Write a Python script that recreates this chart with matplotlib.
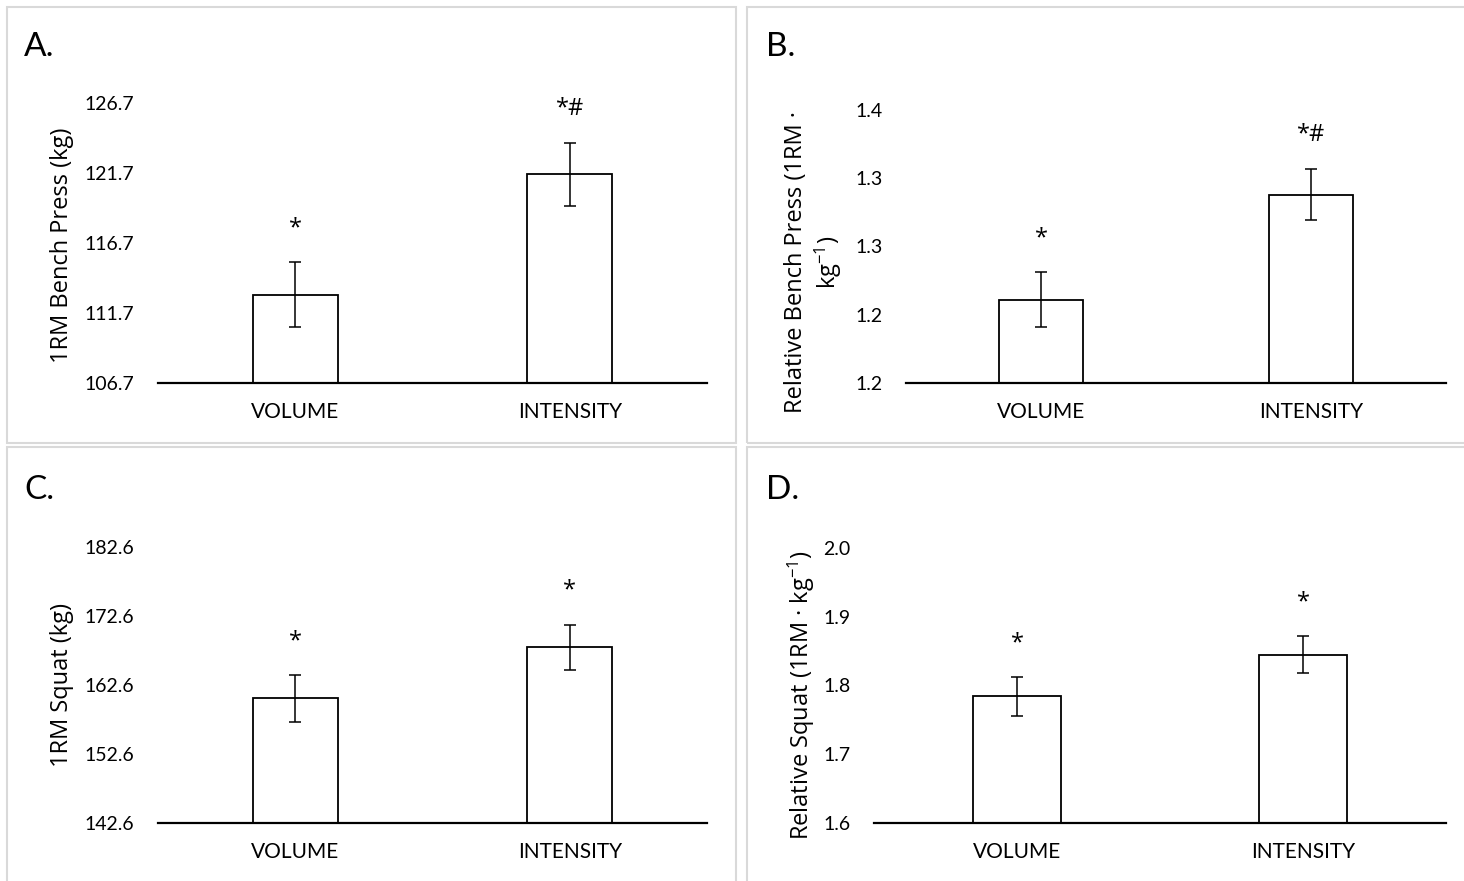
import numpy as np
import matplotlib
matplotlib.use('Agg')
import matplotlib.pyplot as plt
from matplotlib.patches import Rectangle

plt.rcParams['font.family'] = ['Lato', 'DejaVu Sans']
plt.rcParams['mathtext.fontset'] = 'custom'
plt.rcParams['mathtext.rm'] = 'Open Sans'
plt.rcParams['mathtext.it'] = 'Open Sans:italic'

# DATA
groups = ['VOLUME', 'INTENSITY']

bench_abs = [113.0, 121.6]
bench_abs_err = [2.3, 2.25]
bench_abs_marks = ['*', '*#']
bench_abs_ticks = [106.7, 111.7, 116.7, 121.7, 126.7]

bench_rel = [1.211, 1.288]
bench_rel_err = [0.020, 0.019]
bench_rel_marks = ['*', '*#']
bench_rel_ticks = [1.15, 1.20, 1.25, 1.30, 1.35]
bench_rel_ticklabels = ['1.2', '1.2', '1.3', '1.3', '1.4']

squat_abs = [160.6, 168.0]
squat_abs_err = [3.4, 3.3]
squat_abs_marks = ['*', '*']
squat_abs_ticks = [142.6, 152.6, 162.6, 172.6, 182.6]

squat_rel = [1.784, 1.845]
squat_rel_err = [0.028, 0.027]
squat_rel_marks = ['*', '*']
squat_rel_ticks = [1.6, 1.7, 1.8, 1.9, 2.0]

W, H = 1464, 881
fig = plt.figure(figsize=(W / 100, H / 100), dpi=100)


def box(x0, y0, x1, y1):
    # pixel box -> figure fraction rect
    return [x0 / W, 1 - y1 / H, (x1 - x0) / W, (y1 - y0) / H]


# grey panel frames
for (x0, y0, x1, y1) in [(7, 7, 736, 443), (747, 7, 1480, 443),
                         (7, 447, 736, 900), (747, 447, 1480, 900)]:
    fig.patches.append(Rectangle((x0 / W, 1 - y1 / H), (x1 - x0) / W, (y1 - y0) / H,
                                 transform=fig.transFigure, fill=False,
                                 edgecolor='#d9d9d9', linewidth=1.5, zorder=0))


def panel(rect, vals, errs, marks, ticks, ticklabels, letter, letter_xy):
    ax = fig.add_axes(box(*rect))
    x = np.arange(len(groups))
    ax.bar(x, vals, width=0.31, color='white', edgecolor='black', linewidth=1.3, zorder=2)
    ax.errorbar(x, vals, yerr=errs, fmt='none', ecolor='black', elinewidth=1.1,
                capsize=4.3, capthick=1.1, zorder=3)
    for xi, v, e, m in zip(x, vals, errs, marks):
        ax.annotate(m, (xi, v + e), xytext=(0, 20), textcoords='offset points',
                    ha='center', va='baseline', fontsize=17, family='Open Sans')
    ax.set_xlim(-0.5, 1.5)
    ax.set_ylim(ticks[0], ticks[-1])
    ax.set_yticks(ticks)
    if ticklabels is None:
        ticklabels = [f'{t:.1f}' for t in ticks]
    ax.set_yticklabels(ticklabels)
    ax.set_xticks(x)
    ax.set_xticklabels(groups)
    ax.tick_params(axis='both', length=0)
    ax.tick_params(axis='y', pad=17, labelsize=14)
    ax.tick_params(axis='x', pad=14, labelsize=15)
    for s in ['top', 'right', 'left']:
        ax.spines[s].set_visible(False)
    ax.spines['bottom'].set_linewidth(1.6)
    ax.spines['bottom'].set_zorder(4)
    fig.text(letter_xy[0] / W, 1 - letter_xy[1] / H, letter, fontsize=24,
             ha='left', va='center')
    return ax


panel((158, 103, 707, 382.7), bench_abs, bench_abs_err, bench_abs_marks,
      bench_abs_ticks, None, 'A.', (24, 47))
panel((906, 110, 1446, 382.7), bench_rel, bench_rel_err, bench_rel_marks,
      bench_rel_ticks, bench_rel_ticklabels, 'B.', (766, 47))
panel((158, 546.7, 707, 822.7), squat_abs, squat_abs_err, squat_abs_marks,
      squat_abs_ticks, None, 'C.', (24, 490))
panel((874, 548.3, 1446, 822.7), squat_rel, squat_rel_err, squat_rel_marks,
      squat_rel_ticks, None, 'D.', (766, 490))

ylab = dict(rotation=90, ha='center', va='center', fontsize=17, family='Open Sans')
fig.text(62 / W, 1 - 245 / H, '1RM Bench Press (kg)', **ylab)
fig.text(814 / W, 1 - 262 / H, 'Relative Bench Press (1RM \u00b7\nkg$^{\\mathrm{-1}}$)',
         multialignment='center', linespacing=1.25, **ylab)
fig.text(62 / W, 1 - 685 / H, '1RM Squat (kg)', **ylab)
fig.text(801 / W, 1 - 695 / H, 'Relative Squat (1RM \u00b7 kg$^{\\mathrm{-1}}$)', **ylab)

fig.savefig('out.png', dpi=100)
